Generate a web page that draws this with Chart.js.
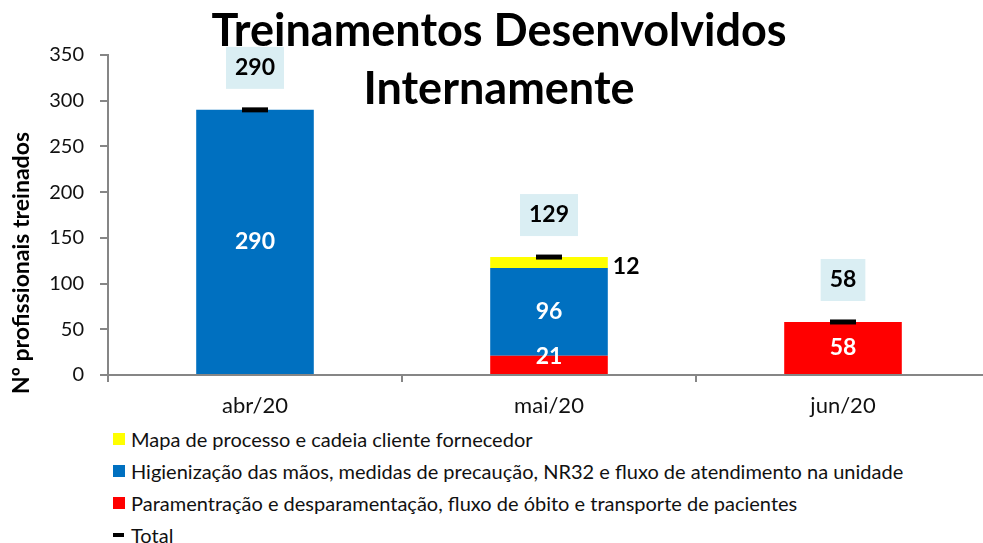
<!DOCTYPE html>
<html>
<head>
<meta charset="utf-8">
<script src="https://cdn.jsdelivr.net/npm/chart.js@4"></script>
<style>
  body { margin: 0; overflow: hidden; background: #fff; font-family: Lato, sans-serif; }
  #grafico { display: block; }
  #legenda { margin: 3px 0 0 113px; font-size: 20px; color: #111; }
  #legenda div { height: 32px; display: flex; align-items: center; white-space: nowrap; }
  #legenda .box { display: inline-block; width: 12px; height: 12px; margin-right: 6px; }
  #legenda .traco { display: inline-block; width: 11px; height: 4px; background: #000; margin-right: 7px; }
</style>
</head>
<body>
<canvas id="grafico" width="1000" height="420"></canvas>
<div id="legenda"></div>
<script>
const meses = ['abr/20', 'mai/20', 'jun/20'];
const paramentacao = [null, 21, 58];
const higienizacao = [290, 96, null];
const mapaProcesso = [null, 12, null];
const total = [290, 129, 58];
const yTicks = [0, 50, 100, 150, 200, 250, 300, 350];

const fonte = 'Lato';

// rotulos das barras, caixas do total, titulo e titulo do eixo
const rotulos = {
  id: 'rotulos',
  afterDatasetsDraw(chart) {
    const ctx = chart.ctx;
    ctx.save();
    ctx.textAlign = 'center';
    ctx.textBaseline = 'middle';
    ctx.font = 'bold 23px ' + fonte;
    chart.data.datasets.forEach((ds, i) => {
      const meta = chart.getDatasetMeta(i);
      meta.data.forEach((el, j) => {
        const v = ds.data[j];
        if (v == null) return;
        const txt = String(v);
        if (ds.type === 'line') {
          const w = ctx.measureText(txt).width + 18;
          const cy = el.y - 42;
          ctx.fillStyle = '#DAEEF3';
          ctx.fillRect(el.x - w / 2, cy - 21, w, 42);
          ctx.fillStyle = '#000';
          ctx.fillText(txt, el.x, cy);
        } else if (ds.rotuloFora) {
          ctx.fillStyle = '#000';
          ctx.textAlign = 'left';
          ctx.fillText(txt, el.x + el.width / 2 + 5, (el.y + el.base) / 2 + 4);
          ctx.textAlign = 'center';
        } else {
          ctx.fillStyle = '#fff';
          const cy = Math.min((el.y + el.base) / 2, el.base - 17);
          ctx.fillText(txt, el.x, cy);
        }
      });
    });
    ctx.restore();
  },
  afterDraw(chart) {
    const ctx = chart.ctx;
    ctx.save();
    ctx.fillStyle = '#000';
    ctx.textAlign = 'center';
    ctx.textBaseline = 'alphabetic';
    ctx.font = 'bold 45px ' + fonte;
    ctx.fillText('Treinamentos Desenvolvidos', 499, 46);
    ctx.fillText('Internamente', 499, 104);

    ctx.translate(22, 263);
    ctx.rotate(-Math.PI / 2);
    ctx.textBaseline = 'middle';
    ctx.font = 'bold 23px ' + fonte;
    ctx.fillText('Nº profissionais treinados', 0, 0);
    ctx.restore();
  }
};

const chart = new Chart(document.getElementById('grafico'), {
  type: 'bar',
  data: {
    labels: meses,
    datasets: [
      {
        label: 'Paramentração e desparamentação, fluxo de óbito e transporte de pacientes',
        data: paramentacao,
        backgroundColor: '#FF0000',
        order: 1
      },
      {
        label: 'Higienização das mãos, medidas de precaução, NR32 e fluxo de atendimento na unidade',
        data: higienizacao,
        backgroundColor: '#0070C0',
        order: 1
      },
      {
        label: 'Mapa de processo e cadeia cliente fornecedor',
        data: mapaProcesso,
        backgroundColor: '#FFFF00',
        rotuloFora: true,
        order: 1
      },
      {
        type: 'line',
        label: 'Total',
        data: total,
        stack: 'total',
        showLine: false,
        pointStyle: 'line',
        pointRadius: 13,
        pointHoverRadius: 13,
        pointBorderWidth: 5,
        borderColor: '#000',
        backgroundColor: '#000',
        order: 0
      }
    ]
  },
  options: {
    responsive: false,
    animation: false,
    layout: { autoPadding: false, padding: { top: 55, right: 10, left: 0, bottom: 0 } },
    datasets: {
      bar: { barPercentage: 0.4, categoryPercentage: 1 }
    },
    plugins: {
      legend: { display: false },
      tooltip: { enabled: false }
    },
    scales: {
      x: {
        stacked: true,
        afterFit: s => { s.height = 45; },
        border: { color: '#868686', width: 2 },
        grid: { display: true, drawOnChartArea: false, offset: true, tickLength: 7, color: '#868686', lineWidth: 2 },
        ticks: { color: '#111', padding: 11, font: { family: fonte, size: 22 } }
      },
      y: {
        stacked: true,
        min: 0,
        max: 350,
        afterFit: s => { s.width = 108; },
        afterBuildTicks: s => { s.ticks = yTicks.map(v => ({ value: v })); },
        border: { color: '#868686', width: 2 },
        grid: { display: true, drawOnChartArea: false, tickLength: 8, color: '#868686', lineWidth: 2 },
        ticks: { color: '#111', padding: 16, font: { family: fonte, size: 20 } }
      }
    }
  },
  plugins: [rotulos]
});

// legenda em lista vertical, na ordem do original
const legenda = document.getElementById('legenda');
[2, 1, 0, 3].forEach(i => {
  const ds = chart.data.datasets[i];
  const row = document.createElement('div');
  const mark = document.createElement('span');
  if (ds.type === 'line') {
    mark.className = 'traco';
  } else {
    mark.className = 'box';
    mark.style.background = ds.backgroundColor;
  }
  row.appendChild(mark);
  row.appendChild(document.createTextNode(ds.label));
  legenda.appendChild(row);
});
</script>
</body>
</html>
